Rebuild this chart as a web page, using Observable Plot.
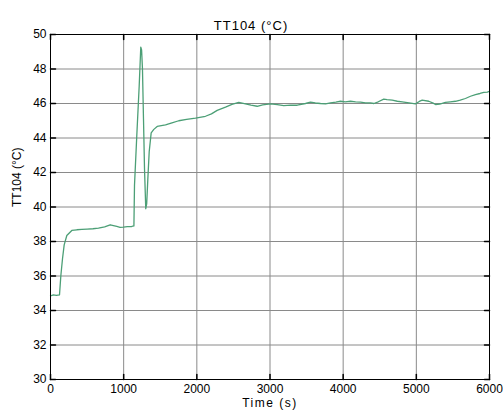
<!DOCTYPE html>
<html>
<head>
<meta charset="utf-8">
<script src="https://cdn.jsdelivr.net/npm/d3@7"></script>
<script src="https://cdn.jsdelivr.net/npm/@observablehq/plot@0.6"></script>
<style>
  html, body { margin: 0; padding: 0; background: #fff; }
  svg { display: block; }
</style>
</head>
<body>
<div id="chart"></div>
<script>
const titleText = "TT104 (°C)";
const xLabel = "Time (s)";
const yLabel = "TT104 (°C)";
const xTicks = [0, 1000, 2000, 3000, 4000, 5000, 6000];
const yTicks = [30, 32, 34, 36, 38, 40, 42, 44, 46, 48, 50];

const times = [
  0, 40, 80, 123, 141, 164, 187, 223, 291, 360, 428, 500, 580, 656, 740, 816, 860, 906, 950, 998,
  1050, 1111, 1140, 1148, 1179, 1212, 1234, 1245, 1257, 1271, 1285, 1302, 1315, 1330, 1349, 1376,
  1412, 1458, 1572, 1660, 1753, 1860, 1982, 2118, 2200, 2278, 2392, 2480, 2573, 2665, 2740, 2825,
  2900, 3007, 3100, 3188, 3280, 3372, 3485, 3553, 3620, 3690, 3760, 3827, 3900, 3963, 4030, 4100,
  4170, 4237, 4305, 4373, 4419, 4480, 4555, 4600, 4670, 4740, 4807, 4900, 4988, 5040, 5080, 5170,
  5230, 5262, 5320, 5398, 5465, 5535, 5600, 5671, 5740, 5808, 5870, 5922, 5970, 6000
];
const temps = [
  34.85, 34.9, 34.88, 34.9, 36.0, 37.0, 37.8, 38.35, 38.64, 38.68, 38.7, 38.72, 38.74, 38.77, 38.85, 38.97, 38.92, 38.87, 38.82, 38.83,
  38.86, 38.87, 38.9, 41.25, 44.1, 47.0, 49.27, 49.1, 48.0, 45.1, 42.2, 39.9, 40.2, 41.6, 43.2, 44.3,
  44.5, 44.67, 44.76, 44.88, 45.0, 45.08, 45.15, 45.26, 45.4, 45.6, 45.79, 45.95, 46.07, 45.98, 45.9, 45.84,
  45.92, 45.98, 45.93, 45.88, 45.9, 45.9, 46.0, 46.08, 46.03, 46.0, 45.98, 46.04, 46.08, 46.13, 46.1, 46.13,
  46.1, 46.08, 46.04, 46.04, 46.0, 46.1, 46.25, 46.22, 46.19, 46.13, 46.09, 46.04, 45.98, 46.12, 46.19, 46.13,
  46.02, 45.94, 45.97, 46.06, 46.1, 46.13, 46.2, 46.29, 46.42, 46.52, 46.58, 46.64, 46.66, 46.71
];

const data = times.map((t, i) => ({t, v: temps[i]}));

const tickShape = {draw(context, l) { context.moveTo(0, 0); context.lineTo(0, -l); }};

const chart = Plot.plot({
  width: 503,
  height: 417,
  marginLeft: 50,
  marginRight: 14,
  marginTop: 34,
  marginBottom: 38,
  style: {fontFamily: "'Liberation Sans', Arial, sans-serif", fontSize: "12px", color: "#000", background: "#fff"},
  x: {domain: [0, 6000], label: null},
  y: {domain: [30, 50], label: null},
  marks: [
    Plot.gridX(xTicks, {stroke: "#8a8a8a", strokeOpacity: 1, strokeWidth: 1}),
    Plot.gridY(yTicks, {stroke: "#8a8a8a", strokeOpacity: 1, strokeWidth: 1}),
    Plot.line(data, {x: "t", y: "v", stroke: "#4c9f76", strokeWidth: 1.3}),
    Plot.vector(xTicks, {x: d => d, frameAnchor: "bottom", length: 5, rotate: 0, anchor: "start", shape: tickShape, stroke: "#000"}),
    Plot.vector(xTicks, {x: d => d, frameAnchor: "top", length: 5, rotate: 180, anchor: "start", shape: tickShape, stroke: "#000"}),
    Plot.vector(yTicks, {y: d => d, frameAnchor: "left", length: 5, rotate: 90, anchor: "start", shape: tickShape, stroke: "#000"}),
    Plot.vector(yTicks, {y: d => d, frameAnchor: "right", length: 5, rotate: -90, anchor: "start", shape: tickShape, stroke: "#000"}),
    Plot.frame({stroke: "#000"}),
    Plot.axisX(xTicks, {tickSize: 0, tickPadding: 5, tickFormat: d => String(d), label: null, fill: "#000"}),
    Plot.axisY(yTicks, {tickSize: 0, tickPadding: 4, tickFormat: d => String(d), label: null, fill: "#000"}),
    Plot.text([titleText], {frameAnchor: "top", dy: -14, dx: -19, fontSize: 13, fill: "#000"}),
    Plot.text([xLabel], {frameAnchor: "bottom", dy: 27, fontSize: 12, fill: "#000"}),
    Plot.text([yLabel], {frameAnchor: "left", dx: -33, rotate: -90, fontSize: 12, fill: "#000"})
  ]
});

document.getElementById("chart").appendChild(chart);
d3.select(chart).selectAll("text").filter(function() { return this.textContent === titleText && !(this.getAttribute("transform") || "").includes("rotate"); }).style("letter-spacing", "1px");
d3.select(chart).selectAll("text").filter(function() { return this.textContent === xLabel; }).style("letter-spacing", "1.5px");
</script>
</body>
</html>
